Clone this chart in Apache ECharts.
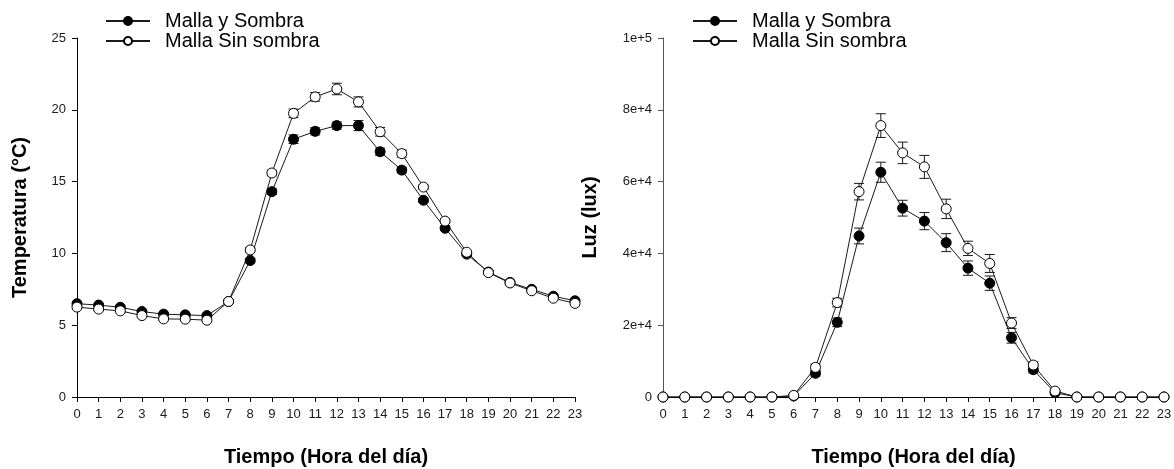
<!DOCTYPE html>
<html>
<head>
<meta charset="utf-8">
<script src="https://cdn.jsdelivr.net/npm/echarts/dist/echarts.min.js"></script>
<style>
  html, body { margin: 0; padding: 0; background: #fff; }
  #chart { width: 1174px; height: 469px; }
</style>
</head>
<body>
<div id="chart"></div>
<script>
// horas del dia
const hours = [0, 1, 2, 3, 4, 5, 6, 7, 8, 9, 10, 11, 12, 13, 14, 15, 16, 17, 18, 19, 20, 21, 22, 23];

// temperatura (ºC)
const tempSombra = [6.5, 6.4, 6.25, 5.95, 5.77, 5.72, 5.67, 6.65, 9.5, 14.3, 17.95, 18.5, 18.9, 18.9, 17.08, 15.8, 13.7, 11.75, 9.95, 8.7, 7.98, 7.5, 7.02, 6.7];
const tempSinSombra = [6.26, 6.12, 6.0, 5.67, 5.44, 5.42, 5.35, 6.65, 10.24, 15.6, 19.75, 20.9, 21.45, 20.55, 18.47, 16.95, 14.62, 12.25, 10.08, 8.66, 7.94, 7.4, 6.88, 6.52];
const tempSombraErr = [0.1, 0.1, 0.1, 0.1, 0.1, 0.1, 0.1, 0.1, 0.15, 0.2, 0.3, 0.25, 0.25, 0.35, 0.25, 0.2, 0.15, 0.15, 0.1, 0.1, 0.1, 0.1, 0.1, 0.1];
const tempSinSombraErr = [0.1, 0.1, 0.1, 0.1, 0.1, 0.1, 0.1, 0.1, 0.15, 0.2, 0.3, 0.3, 0.4, 0.35, 0.3, 0.25, 0.15, 0.15, 0.1, 0.1, 0.1, 0.1, 0.1, 0.1];

// luz (lux)
const luzSombra = [0, 0, 0, 0, 0, 0, 300, 6600, 20800, 44850, 62600, 52600, 49000, 43000, 35900, 31700, 16500, 7600, 1200, 0, 0, 0, 0, 0];
const luzSinSombra = [0, 0, 0, 0, 0, 0, 440, 8260, 26300, 57200, 75600, 68000, 64100, 52400, 41400, 37200, 20600, 8900, 1650, 0, 0, 0, 0, 0];
const luzSombraErr = [0, 0, 0, 0, 0, 0, 300, 800, 1200, 2200, 2800, 2200, 2400, 2500, 2000, 2000, 1500, 900, 500, 0, 0, 0, 0, 0];
const luzSinSombraErr = [0, 0, 0, 0, 0, 0, 300, 900, 1200, 2300, 3300, 3000, 3200, 2700, 2000, 2500, 1500, 900, 500, 0, 0, 0, 0, 0];

const luzTicks = { 0: '0', 20000: '2e+4', 40000: '4e+4', 60000: '6e+4', 80000: '8e+4', 100000: '1e+5' };

const FONT = '"Liberation Sans", Arial, sans-serif';
const INK = '#1a1a1a';

const pairs = (ys) => hours.map((h, i) => [h, ys[i]]);
const errData = (ys, es) => hours.filter((h, i) => es[i] > 0).map(h => [h, ys[h] - es[h], ys[h] + es[h]]);

// barras de error con remate
const renderErr = (params, api) => {
  const x = api.value(0);
  const top = api.coord([x, api.value(2)]);
  const bot = api.coord([x, api.value(1)]);
  const w = 5;
  const style = { stroke: INK, lineWidth: 1 };
  return {
    type: 'group',
    children: [
      { type: 'line', shape: { x1: top[0], y1: top[1], x2: bot[0], y2: bot[1] }, style },
      { type: 'line', shape: { x1: top[0] - w, y1: top[1], x2: top[0] + w, y2: top[1] }, style },
      { type: 'line', shape: { x1: bot[0] - w, y1: bot[1], x2: bot[0] + w, y2: bot[1] }, style }
    ]
  };
};

const titleStyle = { fontFamily: FONT, fontSize: 20, fontWeight: 'bold', color: '#000' };
const xTickStyle = { fontFamily: FONT, fontSize: 13, color: INK, margin: 11 };
const yTickStyle = { fontFamily: FONT, fontSize: 13, color: INK, margin: 11 };

const xAxisBase = (gridIndex) => ({
  gridIndex,
  type: 'value',
  min: 0, max: 23, interval: 1,
  name: 'Tiempo (Hora del día)',
  nameLocation: 'middle',
  nameGap: 50,
  nameTextStyle: titleStyle,
  axisLine: { lineStyle: { color: '#000', width: 1 } },
  axisTick: { length: 5, lineStyle: { color: '#000' } },
  axisLabel: xTickStyle,
  splitLine: { show: false }
});

const lineSeries = (name, xi, data, filled) => ({
  name,
  type: 'line',
  xAxisIndex: xi, yAxisIndex: xi,
  data,
  symbol: 'circle',
  symbolSize: 10,
  showAllSymbol: true,
  lineStyle: { color: INK, width: 1 },
  itemStyle: { color: filled ? '#000' : '#fff', borderColor: '#000', borderWidth: 1 },
  emphasis: { disabled: true },
  z: 3
});

const errSeries = (xi, data) => ({
  type: 'custom',
  xAxisIndex: xi, yAxisIndex: xi,
  data,
  encode: { x: 0, y: [1, 2] },
  renderItem: renderErr,
  silent: true,
  z: 2
});

const legendBase = (left) => ({
  left,
  top: 11,
  padding: 0,
  orient: 'vertical',
  itemGap: 0,
  itemWidth: 44,
  itemHeight: 10,
  selectedMode: false,
  data: ['Malla y Sombra', 'Malla Sin sombra'],
  textStyle: { fontFamily: FONT, fontSize: 20, color: '#000', padding: [0, 0, 0, 10], lineHeight: 18, height: 18 }
});

const chart = echarts.init(document.getElementById('chart'));
chart.setOption({
  backgroundColor: '#fff',
  animation: false,
  legend: [legendBase(105), legendBase(692)],
  grid: [
    { left: 77, top: 38, width: 498, bottom: 72, outerBoundsMode: 'none' },
    { left: 663, top: 38, width: 501, bottom: 72, outerBoundsMode: 'none' }
  ],
  xAxis: [xAxisBase(0), xAxisBase(1)],
  yAxis: [
    {
      gridIndex: 0,
      type: 'value',
      min: 0, max: 25, interval: 5,
      name: 'Temperatura (°C)',
      nameLocation: 'middle',
      nameGap: 47,
      nameTextStyle: titleStyle,
      axisLine: { show: true, lineStyle: { color: '#000', width: 1 } },
      axisTick: { show: true, length: 5, lineStyle: { color: '#000' } },
      axisLabel: yTickStyle,
      splitLine: { show: false }
    },
    {
      gridIndex: 1,
      type: 'value',
      min: 0, max: 100000, interval: 20000,
      name: 'Luz (lux)',
      nameLocation: 'middle',
      nameGap: 63,
      nameTextStyle: titleStyle,
      axisLine: { show: true, lineStyle: { color: '#555', width: 1 } },
      axisTick: { show: true, length: 5, lineStyle: { color: '#555' } },
      axisLabel: Object.assign({}, yTickStyle, { formatter: v => luzTicks[v] }),
      splitLine: { show: false }
    }
  ],
  series: [
    errSeries(0, errData(tempSombra, tempSombraErr)),
    errSeries(0, errData(tempSinSombra, tempSinSombraErr)),
    lineSeries('Malla y Sombra', 0, pairs(tempSombra), true),
    lineSeries('Malla Sin sombra', 0, pairs(tempSinSombra), false),
    errSeries(1, errData(luzSombra, luzSombraErr)),
    errSeries(1, errData(luzSinSombra, luzSinSombraErr)),
    lineSeries('Malla y Sombra', 1, pairs(luzSombra), true),
    lineSeries('Malla Sin sombra', 1, pairs(luzSinSombra), false)
  ]
});
</script>
</body>
</html>
